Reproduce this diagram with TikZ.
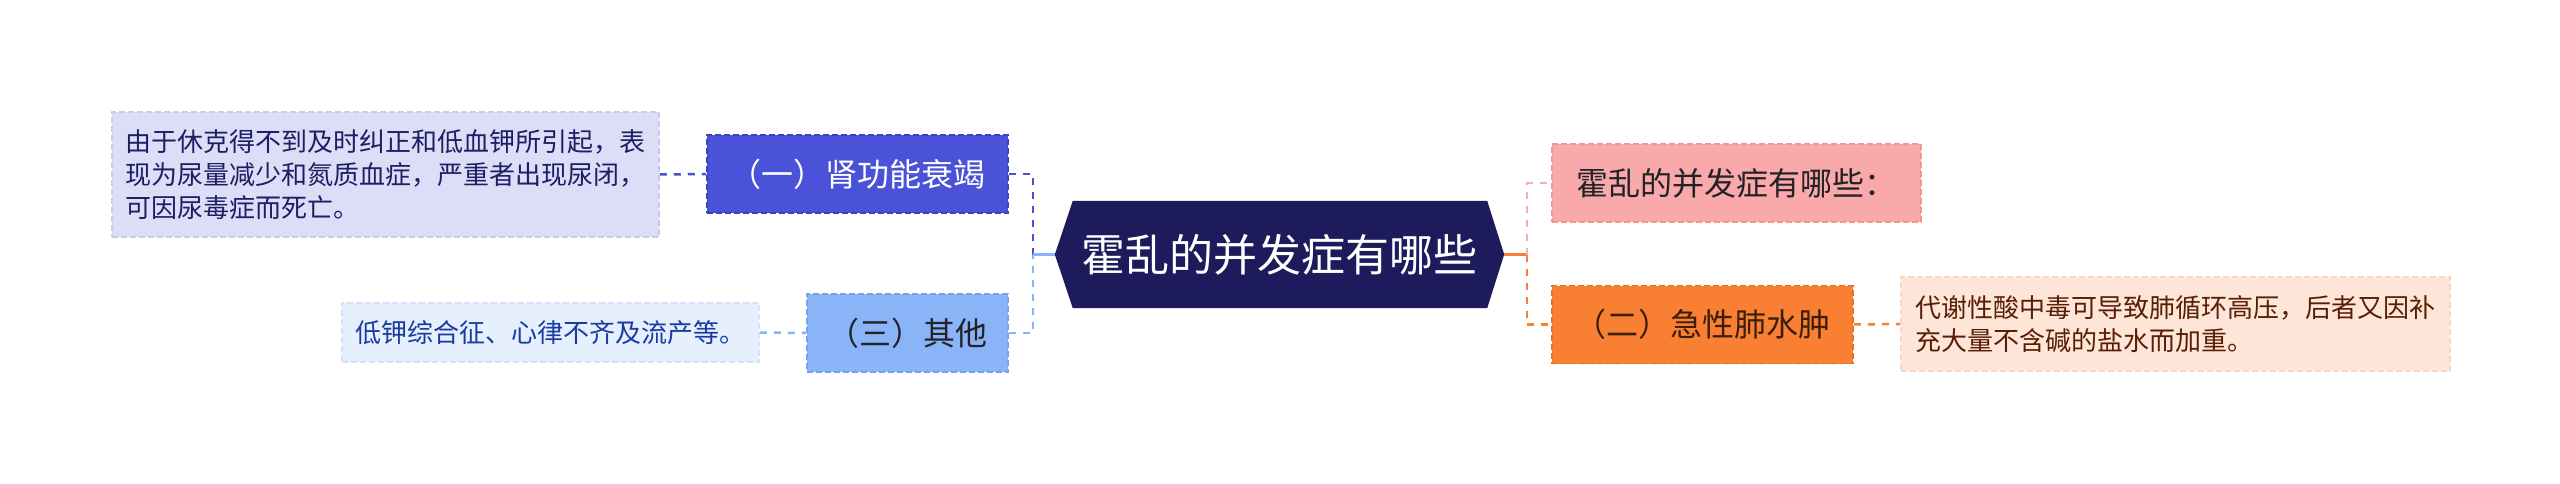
\documentclass[tikz,border=0pt]{standalone}
\usepackage{fontspec}
\setmainfont{Noto Sans CJK SC}
\usetikzlibrary{backgrounds}
\definecolor{navy}{RGB}{29,27,92}
\definecolor{indigo}{RGB}{74,82,216}
\definecolor{indigoB}{RGB}{58,66,196}
\definecolor{lavender}{RGB}{220,221,246}
\definecolor{lavenderB}{RGB}{200,201,236}
\definecolor{navytext}{RGB}{30,30,100}
\definecolor{skyblue}{RGB}{138,180,248}
\definecolor{skyblueB}{RGB}{118,162,236}
\definecolor{paleblue}{RGB}{230,239,253}
\definecolor{paleblueB}{RGB}{212,226,250}
\definecolor{bluetext}{RGB}{25,60,160}
\definecolor{pink}{RGB}{249,169,169}
\definecolor{pinkB}{RGB}{238,150,150}
\definecolor{pinkline}{RGB}{244,176,176}
\definecolor{orange}{RGB}{249,127,50}
\definecolor{orangeB}{RGB}{232,108,36}
\definecolor{peach}{RGB}{253,229,216}
\definecolor{peachB}{RGB}{246,214,198}
\definecolor{browntext}{RGB}{90,30,5}
\definecolor{darkbrown}{RGB}{60,30,10}
\definecolor{darktext}{RGB}{34,34,40}
\begin{document}
\begin{tikzpicture}[x=1pt,y=-1pt,
  mainbox/.style={minimum height=78pt, inner sep=0pt, font=\fontsize{32}{38}\selectfont, draw, dash pattern=on 6pt off 3pt, line width=1.5pt},
  leafbox/.style={inner xsep=13pt, inner ysep=0pt, align=left, font=\fontsize{26}{33}\selectfont, draw, dash pattern=on 6pt off 3pt, line width=1.5pt},
  conn/.style={line width=2.5pt, dash pattern=on 7pt off 7pt},
  solidconn/.style={line width=2.5pt}]
\useasboundingbox (0,0) rectangle (2560,484);

% central node
\node[minimum width=449pt, minimum height=107pt, inner sep=0pt] (c) at (1279.5,254.5) {};
\begin{scope}[on background layer]
\fill[navy] (c.west) -- ([xshift=18pt]c.north west) -- ([xshift=-17pt]c.north east) -- (c.east) -- ([xshift=-17pt]c.south east) -- ([xshift=18pt]c.south west) -- cycle;
\end{scope}
\node[text=white, font=\fontsize{44}{52}\selectfont, inner sep=0pt] (ct) at (c) {霍乱的并发症有哪些};

% left branches
\node[mainbox, fill=indigo, draw=indigoB, text=white, minimum width=301pt] (n1) at (857.5,174) {（一）肾功能衰竭};
\node[leafbox, fill=lavender, draw=lavenderB, text=navytext, minimum width=547pt, minimum height=125pt] (l1) at (385.5,174.5)
  {由于休克得不到及时纠正和低血钾所引起，表\\现为尿量减少和氮质血症，严重者出现尿闭，\\可因尿毒症而死亡。};
\node[mainbox, fill=skyblue, draw=skyblueB, text=darktext, minimum width=201pt] (n3) at (907.5,333) {（三）其他};
\node[leafbox, fill=paleblue, draw=paleblueB, text=bluetext, minimum width=417pt, minimum height=59pt] (l3) at (550.5,332.5)
  {低钾综合征、心律不齐及流产等。};

% right branches
\node[mainbox, fill=pink, draw=pinkB, text=darktext, minimum width=369pt] (pk) at (1736.5,183) {霍乱的并发症有哪些：};
\node[mainbox, fill=orange, draw=orangeB, text=darkbrown, minimum width=301pt] (n2) at (1702.5,324.5) {（二）急性肺水肿};
\node[leafbox, fill=peach, draw=peachB, text=browntext, minimum width=549pt, minimum height=94pt] (l2) at (2175.5,324)
  {代谢性酸中毒可导致肺循环高压，后者又因补\\充大量不含碱的盐水而加重。};

% junctions
\coordinate (jL) at (1033,254.5);
\coordinate (jR) at (1527,254.5);

% connectors left
\draw[conn, indigo] (n1.east) -| (jL);
\draw[conn, skyblue] (n3.east) -| (jL);
\draw[solidconn, skyblue] (jL) -- (c.west);
\draw[conn, indigo] (l1.east) -- (n1.west);
\draw[conn, skyblue] (l3.east) -- (n3.west);

% connectors right
\draw[solidconn, orange] (c.east) -- (jR);
\draw[conn, pinkline] (jR) |- (pk.west);
\draw[conn, orange] (jR) |- (n2.west);
\draw[conn, orange] (n2.east) -- (l2.west);
\end{tikzpicture}
\end{document}
